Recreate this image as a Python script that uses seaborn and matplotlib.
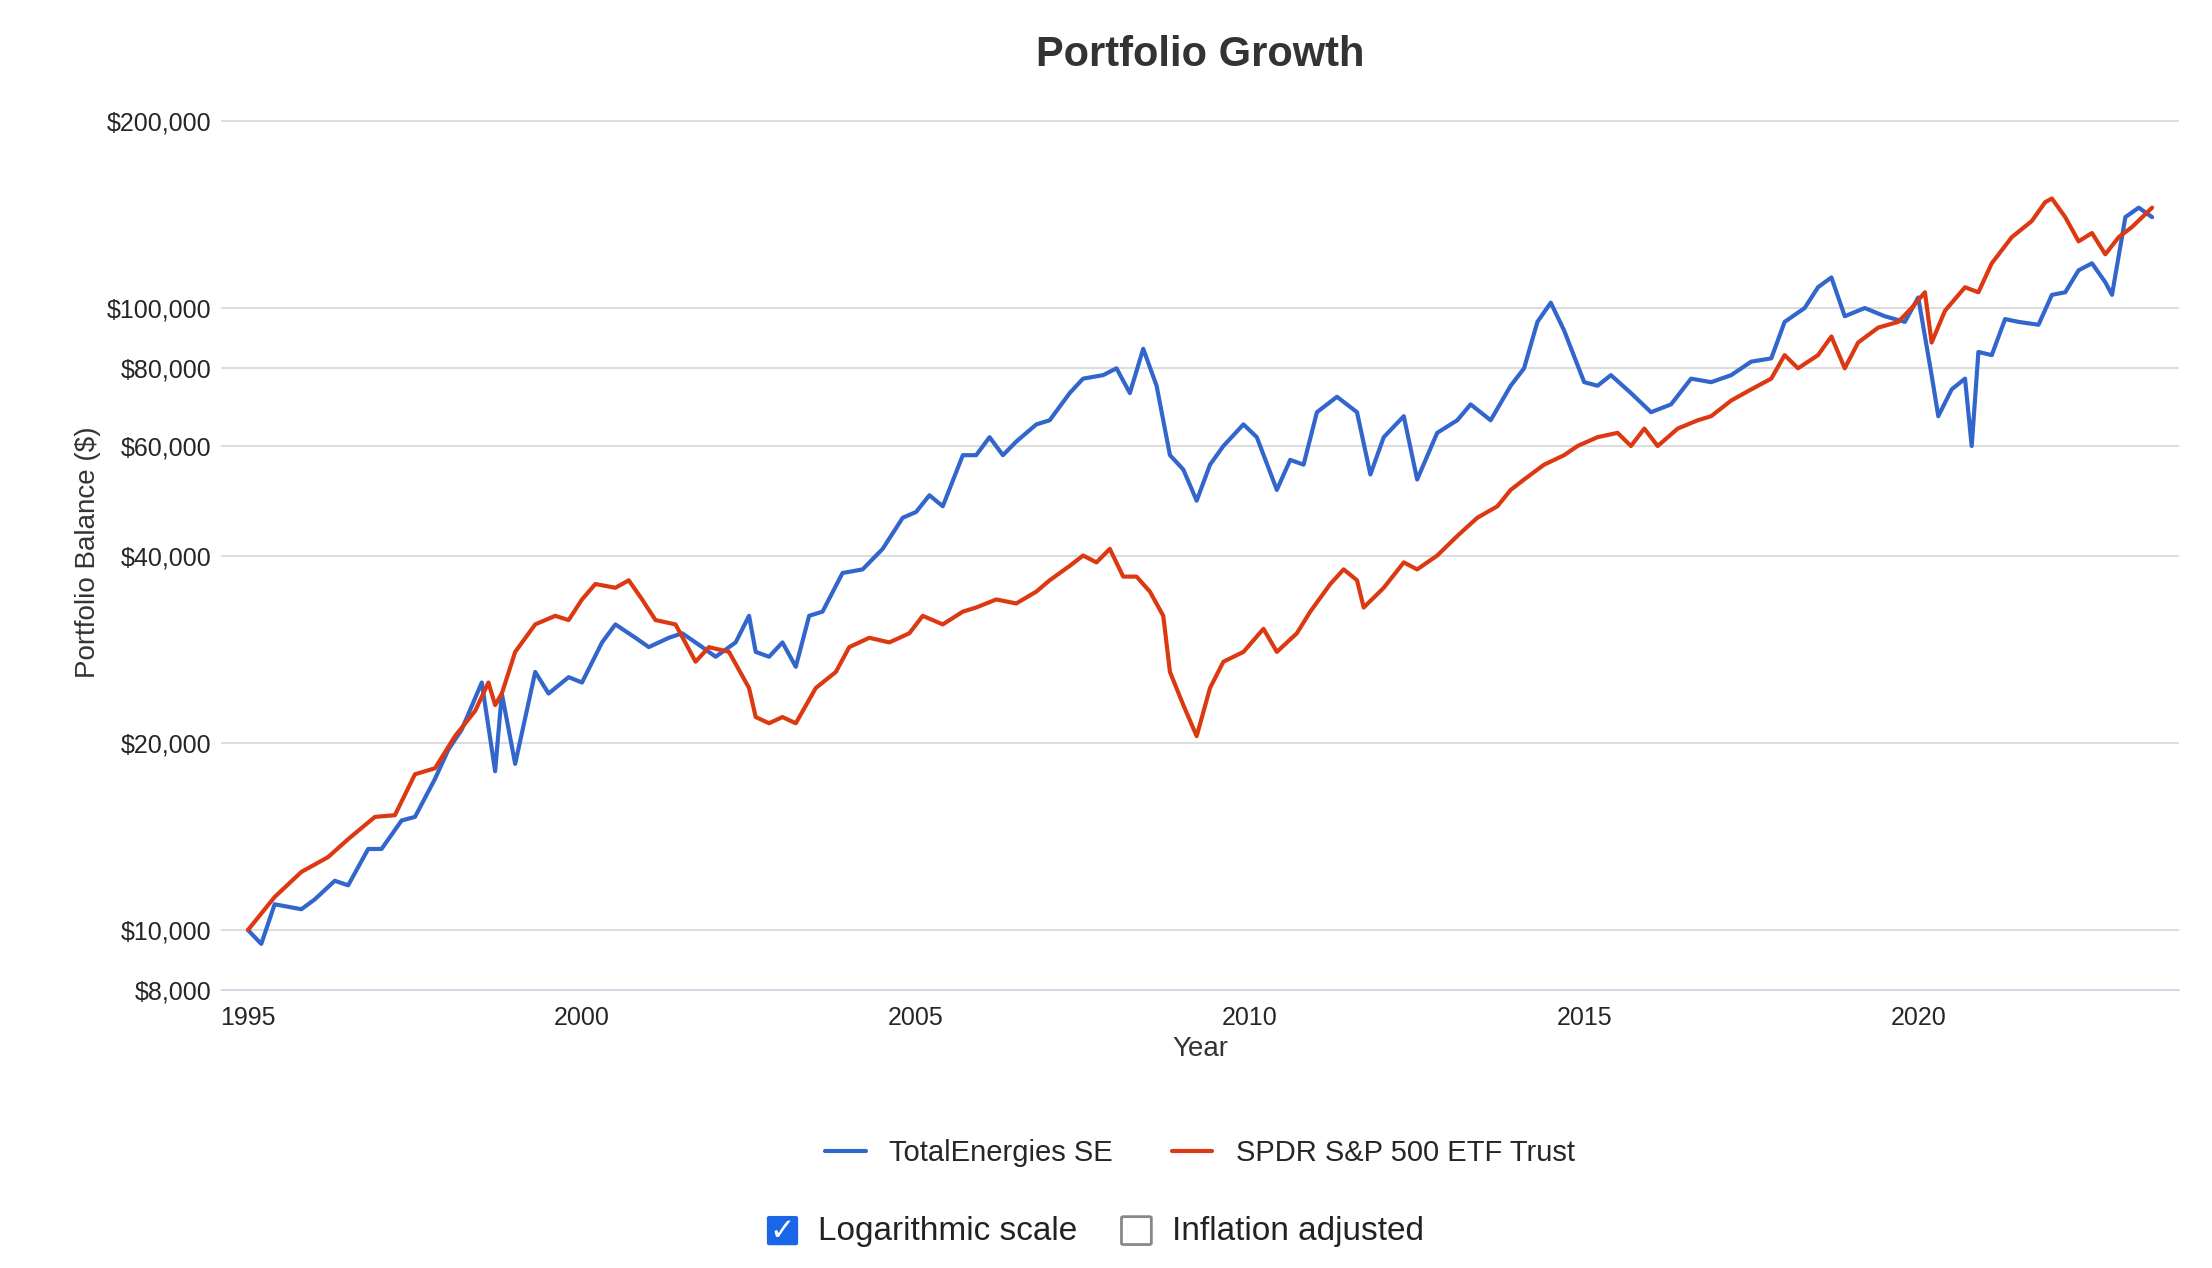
import pandas as pd
import numpy as np
import matplotlib.pyplot as plt
import seaborn as sns
from matplotlib.patches import FancyBboxPatch

tte = [(1995.0,10000),(1995.2,9500),(1995.4,11000),(1995.8,10800),(1996.0,11200),(1996.3,12000),(1996.5,11800),
       (1996.8,13500),(1997.0,13500),(1997.3,15000),(1997.5,15200),(1997.8,17500),(1998.0,19500),(1998.2,21000),
       (1998.5,25000),(1998.7,18000),(1998.8,24000),(1999.0,18500),(1999.3,26000),(1999.5,24000),(1999.8,25500),
       (2000.0,25000),(2000.3,29000),(2000.5,31000),(2000.8,29500),(2001.0,28500),(2001.3,29500),(2001.5,30000),
       (2001.8,28500),(2002.0,27500),(2002.3,29000),(2002.5,32000),(2002.6,28000),(2002.8,27500),(2003.0,29000),
       (2003.2,26500),(2003.4,32000),(2003.6,32500),(2003.9,37500),(2004.2,38000),(2004.5,41000),(2004.8,46000),
       (2005.0,47000),(2005.2,50000),(2005.4,48000),(2005.7,58000),(2005.9,58000),(2006.1,62000),(2006.3,58000),
       (2006.5,61000),(2006.8,65000),(2007.0,66000),(2007.3,73000),(2007.5,77000),(2007.8,78000),(2008.0,80000),
       (2008.2,73000),(2008.4,86000),(2008.6,75000),(2008.8,58000),(2009.0,55000),(2009.2,49000),(2009.4,56000),
       (2009.6,60000),(2009.9,65000),(2010.1,62000),(2010.4,51000),(2010.6,57000),(2010.8,56000),(2011.0,68000),
       (2011.3,72000),(2011.6,68000),(2011.8,54000),(2012.0,62000),(2012.3,67000),(2012.5,53000),(2012.8,63000),
       (2013.1,66000),(2013.3,70000),(2013.6,66000),(2013.9,75000),(2014.1,80000),(2014.3,95000),(2014.5,102000),
       (2014.7,92000),(2015.0,76000),(2015.2,75000),(2015.4,78000),(2015.7,73000),(2016.0,68000),(2016.3,70000),
       (2016.6,77000),(2016.9,76000),(2017.2,78000),(2017.5,82000),(2017.8,83000),(2018.0,95000),(2018.3,100000),
       (2018.5,108000),(2018.7,112000),(2018.9,97000),(2019.2,100000),(2019.5,97000),(2019.8,95000),(2020.0,104000),
       (2020.2,78000),(2020.3,67000),(2020.5,74000),(2020.7,77000),(2020.8,60000),(2020.9,85000),(2021.1,84000),
       (2021.3,96000),(2021.5,95000),(2021.8,94000),(2022.0,105000),(2022.2,106000),(2022.4,115000),(2022.6,118000),
       (2022.8,110000),(2022.9,105000),(2023.1,140000),(2023.3,145000),(2023.5,140000)]
spy = [(1995.0,10000),(1995.4,11300),(1995.8,12400),(1996.2,13100),(1996.5,14000),(1996.9,15200),(1997.2,15300),
       (1997.5,17800),(1997.8,18200),(1998.1,20500),(1998.4,22500),(1998.6,25000),(1998.7,23000),(1998.8,24000),
       (1999.0,28000),(1999.3,31000),(1999.6,32000),(1999.8,31500),(2000.0,34000),(2000.2,36000),(2000.5,35500),
       (2000.7,36500),(2000.9,34000),(2001.1,31500),(2001.4,31000),(2001.7,27000),(2001.9,28500),(2002.2,28000),
       (2002.5,24500),(2002.6,22000),(2002.8,21500),(2003.0,22000),(2003.2,21500),(2003.5,24500),(2003.8,26000),
       (2004.0,28500),(2004.3,29500),(2004.6,29000),(2004.9,30000),(2005.1,32000),(2005.4,31000),(2005.7,32500),
       (2005.9,33000),(2006.2,34000),(2006.5,33500),(2006.8,35000),(2007.0,36500),(2007.3,38500),(2007.5,40000),
       (2007.7,39000),(2007.9,41000),(2008.1,37000),(2008.3,37000),(2008.5,35000),(2008.7,32000),(2008.8,26000),
       (2009.0,23000),(2009.2,20500),(2009.4,24500),(2009.6,27000),(2009.9,28000),(2010.2,30500),(2010.4,28000),
       (2010.7,30000),(2010.9,32500),(2011.2,36000),(2011.4,38000),(2011.6,36500),(2011.7,33000),(2012.0,35500),
       (2012.3,39000),(2012.5,38000),(2012.8,40000),(2013.1,43000),(2013.4,46000),(2013.7,48000),(2013.9,51000),
       (2014.1,53000),(2014.4,56000),(2014.7,58000),(2014.9,60000),(2015.2,62000),(2015.5,63000),(2015.7,60000),
       (2015.9,64000),(2016.1,60000),(2016.4,64000),(2016.7,66000),(2016.9,67000),(2017.2,71000),(2017.5,74000),
       (2017.8,77000),(2018.0,84000),(2018.2,80000),(2018.5,84000),(2018.7,90000),(2018.9,80000),(2019.1,88000),
       (2019.4,93000),(2019.7,95000),(2019.9,100000),(2020.1,106000),(2020.2,88000),(2020.4,99000),(2020.7,108000),
       (2020.9,106000),(2021.1,118000),(2021.4,130000),(2021.7,138000),(2021.9,148000),(2022.0,150000),
       (2022.2,140000),(2022.4,128000),(2022.6,132000),(2022.8,122000),(2023.0,130000),(2023.2,135000),(2023.5,145000)]

df = pd.concat([pd.DataFrame(tte, columns=['Year', 'Balance']).assign(Portfolio='TotalEnergies SE'),
                pd.DataFrame(spy, columns=['Year', 'Balance']).assign(Portfolio='SPDR S&P 500 ETF Trust')])

sns.set_style("white")
plt.rcParams['font.family'] = ['Liberation Sans', 'DejaVu Sans']
fig, ax = plt.subplots(figsize=(22.12, 12.68), dpi=100)
plt.subplots_adjust(left=0.1, right=0.985, top=0.91, bottom=0.219)
sns.lineplot(data=df, x='Year', y='Balance', hue='Portfolio', palette=['#3366cc', '#dc3912'], linewidth=3, ax=ax)
ax.set_yscale('log')
ax.set_ylim(8000, 205000)
ax.set_xlim(1994.6, 2023.9)
ticks = [8000, 10000, 20000, 40000, 60000, 80000, 100000, 200000]
plt.yticks(ticks, ['${:,}'.format(t) for t in ticks], fontsize=18)
ax.yaxis.set_minor_locator(plt.NullLocator())
plt.xticks([1995, 2000, 2005, 2010, 2015, 2020], fontsize=18)
ax.grid(axis='y', color='#dddddd', linewidth=1.5)
sns.despine(left=True)
ax.spines['bottom'].set_color('#ccd6eb')
ax.tick_params(axis='x', length=8, color='#ccd6eb')
plt.title('Portfolio Growth', fontsize=30, fontweight='bold', color='#333333', pad=35)
plt.ylabel('Portfolio Balance ($)', fontsize=20, color='#333333')
plt.xlabel('Year', fontsize=20, color='#333333')
ax.legend(loc='upper center', bbox_to_anchor=(0.5, -0.14), ncol=2, frameon=False, fontsize=21, handlelength=1.4)

# checkboxes under the legend
fig.add_artist(FancyBboxPatch((0.348, 0.0195), 0.0115, 0.02, boxstyle='round,pad=0.001', transform=fig.transFigure,
                              facecolor='#1a66e6', edgecolor='#1a66e6'))
fig.text(0.3537, 0.029, '✓', fontsize=22, color='white', ha='center', va='center', fontweight='bold',
         family='DejaVu Sans')
fig.text(0.37, 0.029, 'Logarithmic scale', fontsize=24, va='center', color='#222222')
fig.add_artist(FancyBboxPatch((0.508, 0.0195), 0.0115, 0.02, boxstyle='round,pad=0.001', transform=fig.transFigure,
                              facecolor='white', edgecolor='#888888', linewidth=2))
fig.text(0.53, 0.029, 'Inflation adjusted', fontsize=24, va='center', color='#222222')

plt.savefig('out.png')
